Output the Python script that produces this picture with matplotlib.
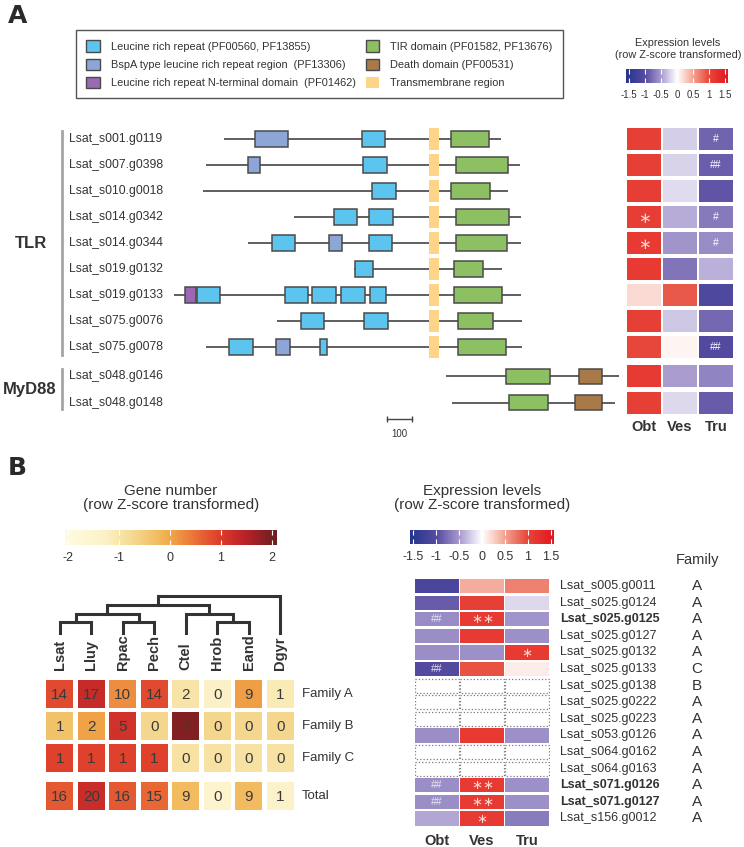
import numpy as np
import matplotlib
matplotlib.use("Agg")
import matplotlib.pyplot as plt
from matplotlib.colors import LinearSegmentedColormap, Normalize
from matplotlib.cm import ScalarMappable
from matplotlib.patches import Patch
from matplotlib.transforms import blended_transform_factory

plt.rcParams["font.family"] = ["Liberation Sans", "DejaVu Sans"]
TXT = "#333333"
plt.rcParams["text.color"] = TXT

W, H = 744, 847

# ---------------- Panel A: domain architecture (aligned aa coordinates) ----------------
a_genes = ["Lsat_s001.g0119", "Lsat_s007.g0398", "Lsat_s010.g0018", "Lsat_s014.g0342",
           "Lsat_s014.g0344", "Lsat_s019.g0132", "Lsat_s019.g0133", "Lsat_s075.g0076",
           "Lsat_s075.g0078", "Lsat_s048.g0146", "Lsat_s048.g0148"]
a_rows = [0, 1, 2, 3, 4, 5, 6, 7, 8, 9.12, 10.15]
a_span = [(216, 1324), (144, 1400), (132, 1352), (496, 1404), (312, 1404), (736, 1328),
          (16, 1404), (428, 1408), (144, 1408), (1104, 1796), (1128, 1780)]
a_domains = [
    [("bspa", 340, 472), ("lrr", 768, 860), ("tm", 1036, 1076), ("tir", 1124, 1276)],
    [("bspa", 312, 360), ("lrr", 772, 868), ("tm", 1036, 1076), ("tir", 1144, 1352)],
    [("lrr", 808, 904), ("tm", 1036, 1076), ("tir", 1124, 1280)],
    [("lrr", 656, 748), ("lrr", 796, 892), ("tm", 1036, 1076), ("tir", 1144, 1356)],
    [("lrr", 408, 500), ("bspa", 636, 688), ("lrr", 796, 888), ("tm", 1036, 1076), ("tir", 1144, 1348)],
    [("lrr", 740, 812), ("tm", 1036, 1076), ("tir", 1136, 1252)],
    [("lrrnt", 60, 104), ("lrr", 108, 200), ("lrr", 460, 552), ("lrr", 568, 664), ("lrr", 684, 780),
     ("lrr", 800, 864), ("tm", 1036, 1076), ("tir", 1136, 1328)],
    [("lrr", 524, 616), ("lrr", 776, 872), ("tm", 1036, 1076), ("tir", 1152, 1292)],
    [("lrr", 236, 332), ("bspa", 424, 480), ("lrr", 600, 628), ("tm", 1036, 1076), ("tir", 1152, 1344)],
    [("tir", 1344, 1520), ("death", 1636, 1728)],
    [("tir", 1356, 1512), ("death", 1620, 1728)],
]
# expression (row z-score): Obt, Ves, Tru
a_expr = np.array([
    [1.10, -0.25, -0.85],
    [1.10, -0.22, -0.88],
    [1.12, -0.18, -0.94],
    [1.13, -0.42, -0.71],
    [1.15, -0.55, -0.60],
    [1.15, -0.75, -0.40],
    [0.20, 0.90, -1.10],
    [1.10, -0.28, -0.82],
    [1.00, 0.05, -1.05],
    [1.15, -0.50, -0.65],
    [1.10, -0.20, -0.90],
])
a_marks = [["", "", "#"], ["", "", "##"], ["", "", ""], ["*", "", "#"], ["*", "", "#"],
           ["", "", ""], ["", "", ""], ["", "", ""], ["", "", "##"], ["", "", ""], ["", "", ""]]
tissues = ["Obt", "Ves", "Tru"]

# ---------------- Panel B ----------------
species = ["Lsat", "Lluy", "Rpac", "Pech", "Ctel", "Hrob", "Eand", "Dgyr"]
fam_rows = ["Family A", "Family B", "Family C", "Total"]
counts = np.array([
    [14, 17, 10, 14, 2, 0, 9, 1],
    [1, 2, 5, 0, 7, 0, 0, 0],
    [1, 1, 1, 1, 0, 0, 0, 0],
    [16, 20, 16, 15, 9, 0, 9, 1],
])
count_rows_y = [0, 1, 2, 3.2]
# dendrogram merges: (left node, right node, height)
merges = [(0, 1, 1.2), (2, 3, 1.2), (5, 6, 1.2), (8, 9, 2.1), (4, 10, 2.1), (11, 12, 3.1), (13, 7, 4.1)]

b_genes = ["Lsat_s005.g0011", "Lsat_s025.g0124", "Lsat_s025.g0125", "Lsat_s025.g0127",
           "Lsat_s025.g0132", "Lsat_s025.g0133", "Lsat_s025.g0138", "Lsat_s025.g0222",
           "Lsat_s025.g0223", "Lsat_s053.g0126", "Lsat_s064.g0162", "Lsat_s064.g0163",
           "Lsat_s071.g0126", "Lsat_s071.g0127", "Lsat_s156.g0012"]
b_family = ["A", "A", "A", "A", "A", "C", "B", "A", "A", "A", "A", "A", "A", "A", "A"]
b_bold = ["Lsat_s025.g0125", "Lsat_s071.g0126", "Lsat_s071.g0127"]
nan = np.nan
b_expr = np.array([
    [-1.15, 0.45, 0.70],
    [-0.90, 1.10, -0.20],
    [-0.60, 1.15, -0.55],
    [-0.58, 1.15, -0.57],
    [-0.58, -0.57, 1.15],
    [-1.05, 0.95, 0.10],
    [nan, nan, nan],
    [nan, nan, nan],
    [nan, nan, nan],
    [-0.58, 1.15, -0.57],
    [nan, nan, nan],
    [nan, nan, nan],
    [-0.58, 1.15, -0.57],
    [-0.58, 1.15, -0.57],
    [-0.45, 1.15, -0.70],
])
b_marks = [["", "", ""], ["", "", ""], ["##", "**", ""], ["", "", ""], ["", "", "*"],
           ["##", "", ""], ["", "", ""], ["", "", ""], ["", "", ""], ["", "", ""],
           ["", "", ""], ["", "", ""], ["##", "**", ""], ["##", "**", ""], ["", "*", ""]]

# ---------------- colour maps ----------------
EXPR_LIM = 1.6
expr_stops = [(-1.6, "#27338e"), (-1.5, "#2b3990"), (-1.0, "#574ca1"), (-0.5, "#a99bcf"),
              (0.0, "#ffffff"), (0.5, "#f3a593"), (1.0, "#e7483a"), (1.5, "#e31e24"), (1.6, "#e01a20")]
expr_cmap = LinearSegmentedColormap.from_list(
    "expr", [((v + EXPR_LIM) / (2 * EXPR_LIM), c) for v, c in expr_stops])
expr_norm = Normalize(-EXPR_LIM, EXPR_LIM)

GN_LO, GN_HI = -2.06, 2.1
gn_stops = [(-2.06, "#fffbe0"), (-1.3, "#fcf2c8"), (-1.0, "#f8e6aa"), (-0.7, "#f5d68c"),
            (-0.3, "#f2c066"), (0.0, "#f0a848"), (0.5, "#ea7036"), (1.0, "#dd3b2b"),
            (1.5, "#b82028"), (2.0, "#742022"), (2.1, "#6c1e20")]
gn_cmap = LinearSegmentedColormap.from_list(
    "gn", [((v - GN_LO) / (GN_HI - GN_LO), c) for v, c in gn_stops])
gn_norm = Normalize(GN_LO, GN_HI)

dom_style = {
    "lrr": ("#5bc4ef", "Leucine rich repeat (PF00560, PF13855)"),
    "bspa": ("#8ea5d8", "BspA type leucine rich repeat region  (PF13306)"),
    "lrrnt": ("#9b68b3", "Leucine rich repeat N-terminal domain  (PF01462)"),
    "tir": ("#8cc063", "TIR domain (PF01582, PF13676)"),
    "death": ("#a87a4a", "Death domain (PF00531)"),
    "tm": ("#fdd488", "Transmembrane region"),
}
EDGE = "#4a4a4a"
STAR = "\u2217"

fig = plt.figure(figsize=(W / 100, H / 100), dpi=100)


def px_axes(x0, y0, x1, y1):
    ax = fig.add_axes([x0 / W, 1 - y1 / H, (x1 - x0) / W, (y1 - y0) / H])
    ax.set_axis_off()
    return ax


def fig_text(x, y, s, **kw):
    fig.text(x / W, 1 - y / H, s, **kw)


def hbar_colorbar(cax, cmap, norm, ticks, labels, fs):
    cb = fig.colorbar(ScalarMappable(norm=norm, cmap=cmap), cax=cax, orientation="horizontal")
    cax.set_axis_on()
    cb.outline.set_visible(False)
    cb.set_ticks(ticks)
    cb.set_ticklabels(labels)
    cax.tick_params(direction="in", length=3.5, width=0.8, color="white", top=True,
                    bottom=True, labelsize=fs, labelcolor=TXT, pad=5)


def put_marks(ax, x, y, m, star_size, hash_color):
    # significance marks: stars drawn side by side, hashes as text
    if m.startswith("*"):
        n = len(m)
        offs = [0.0] if n == 1 else [-0.12, 0.12]
        for dx in offs:
            ax.text(x + dx, y + 0.04, STAR, ha="center", va="center", fontsize=star_size,
                    color="#fbd5cc", family=["DejaVu Sans"])
    else:
        ax.text(x, y, m, ha="center", va="center", fontsize=7.5, color=hash_color)


# ---------------- A: labels ----------------
fig_text(8, 4, "A", fontsize=18, fontweight="bold", va="top", family="DejaVu Sans", color="#2a2a2a")
fig_text(8, 456, "B", fontsize=18, fontweight="bold", va="top", family="DejaVu Sans", color="#2a2a2a")

# legend
order = ["lrr", "bspa", "lrrnt", "tir", "death", "tm"]
handles = [Patch(facecolor=dom_style[k][0], edgecolor=("none" if k == "tm" else EDGE), linewidth=1.0)
           for k in order]
labels = [dom_style[k][1] for k in order]
leg = fig.legend(handles, labels, loc="upper left", ncol=2, mode="expand",
                 bbox_to_anchor=(76 / W, 1 - 103 / H, 487 / W, 73 / H), borderaxespad=0,
                 fontsize=7.9, handlelength=1.2, handleheight=1.2, handletextpad=1.0,
                 labelspacing=0.62, borderpad=0.95, fancybox=False, framealpha=1,
                 edgecolor="#555555")
leg.get_frame().set_linewidth(1.0)
for t in leg.get_texts():
    t.set_color(TXT)

# domain diagram
ax_d = px_axes(170, 118, 640, 442)
ax_d.set_xlim(0, 1880)
ax_d.set_ylim((442 - 139) / 26, (118 - 139) / 26)
for y, (s, e), doms in zip(a_rows, a_span, a_domains):
    ax_d.plot([s, e], [y, y], color="#444444", lw=1.2, zorder=1, solid_capstyle="butt")
    for kind, ds, de in doms:
        if kind == "tm":
            ax_d.barh(y, de - ds, left=ds, height=0.85, color=dom_style[kind][0], zorder=2)
        else:
            ax_d.barh(y, de - ds, left=ds, height=0.58, color=dom_style[kind][0],
                      edgecolor=EDGE, linewidth=1.1, zorder=3)

trans = blended_transform_factory(fig.transFigure, ax_d.transData)
for y, g in zip(a_rows, a_genes):
    ax_d.text(69 / W, y, g, transform=trans, fontsize=8.8, va="center", ha="left", color=TXT)
ax_d.plot([62 / W, 62 / W], [-0.3, 8.3], transform=trans, color="#a5a5a5", lw=2, clip_on=False)
ax_d.plot([62 / W, 62 / W], [8.85, 10.4], transform=trans, color="#a5a5a5", lw=2, clip_on=False)
ax_d.text(47 / W, 4, "TLR", transform=trans, fontsize=12, fontweight="bold", ha="right", va="center", color=TXT)
ax_d.text(57 / W, 9.65, "MyD88", transform=trans, fontsize=12, fontweight="bold", ha="right", va="center", color=TXT)

# scale bar
ax_d.plot([868, 968], [10.77, 10.77], color="#444444", lw=1.0, clip_on=False)
ax_d.plot([868, 968], [10.77, 10.77], ls="none", marker="|", ms=5, color="#444444", clip_on=False)
ax_d.text(918, 11.35, "100", fontsize=7, ha="center", va="center", color=TXT)

# expression heatmap A
ax_h = px_axes(626, 118, 734, 442)
ax_h.set_xlim(-0.5, 2.5)
ax_h.set_ylim(ax_d.get_ylim())
for y, row, marks in zip(a_rows, a_expr, a_marks):
    ax_h.bar(range(3), 0.85, bottom=y - 0.425, width=0.92, color=expr_cmap(expr_norm(row)))
    for j, m in enumerate(marks):
        if m:
            put_marks(ax_h, j, y, m, 11, "white")
for j, t in enumerate(tissues):
    ax_h.text(j, 11.08, t, ha="center", va="center", fontsize=10.5, fontweight="bold", color=TXT)

# colour bar A
cax_a = px_axes(626, 69, 728, 83)
hbar_colorbar(cax_a, expr_cmap, expr_norm, [-1.5, -1, -0.5, 0, 0.5, 1, 1.5],
              ["-1.5", "-1", "-0.5", "0", "0.5", "1", "1.5"], 7)
fig_text(678, 43, "Expression levels", fontsize=7.8, ha="center", va="center")
fig_text(678, 55, "(row Z-score transformed)", fontsize=7.8, ha="center", va="center")

# ---------------- B: gene number ----------------
cax_g = px_axes(65, 530, 277, 545)
hbar_colorbar(cax_g, gn_cmap, gn_norm, [-2, -1, 0, 1, 2], ["-2", "-1", "0", "1", "2"], 9)
fig_text(171, 491, "Gene number", fontsize=11, ha="center", va="center")
fig_text(171, 505, "(row Z-score transformed)", fontsize=11, ha="center", va="center")

zs = (counts - counts.mean(axis=1, keepdims=True)) / counts.std(axis=1, ddof=1, keepdims=True)

ax_g = px_axes(44, 678, 296, 813)
ax_g.set_xlim(-0.5, 7.5)
ax_g.set_ylim(3.72, -0.5)
for y, crow, zrow in zip(count_rows_y, counts, zs):
    ax_g.bar(range(8), 0.875, bottom=y - 0.4375, width=0.86, color=gn_cmap(gn_norm(zrow)))
    for j, c in enumerate(crow):
        ax_g.text(j, y + 0.02, str(c), ha="center", va="center", fontsize=11, color="#3a3a3a")
for y, lab in zip(count_rows_y, fam_rows):
    ax_g.text(7.69, y, lab, ha="left", va="center", fontsize=9.5, color=TXT, clip_on=False)
for j, sp in enumerate(species):
    ax_g.text(j, -0.75, sp, rotation=90, ha="center", va="bottom", fontsize=10.5,
              fontweight="bold", color=TXT, clip_on=False)

# dendrogram
ax_t = px_axes(44, 594, 296, 636)
ax_t.set_xlim(-0.5, 7.5)
ax_t.set_ylim(-0.3, 4.3)
node_x = list(range(len(species)))
node_h = [0.0] * len(species)
for l, r, h in merges:
    ax_t.plot([node_x[l], node_x[l], node_x[r], node_x[r]], [node_h[l], h, h, node_h[r]],
              color="#333333", lw=2.2, solid_joinstyle="miter")
    node_x.append((node_x[l] + node_x[r]) / 2)
    node_h.append(h)

# ---------------- B: expression ----------------
cax_b = px_axes(410, 530, 554, 544)
hbar_colorbar(cax_b, expr_cmap, Normalize(-1.565, 1.565), [-1.5, -1, -0.5, 0, 0.5, 1, 1.5],
              ["-1.5", "-1", "-0.5", "0", "0.5", "1", "1.5"], 9)
fig_text(482, 491, "Expression levels", fontsize=11, ha="center", va="center")
fig_text(482, 505, "(row Z-score transformed)", fontsize=11, ha="center", va="center")

ax_e = px_axes(414.5, 577.75, 549.5, 826.75)
ax_e.set_xlim(-0.5, 2.5)
ax_e.set_ylim(14.5, -0.5)
for i, (row, marks) in enumerate(zip(b_expr, b_marks)):
    if np.isnan(row).all():
        ax_e.bar(range(3), 0.86, bottom=i - 0.43, width=0.96, color="white",
                 edgecolor="#7a7a7a", linestyle=":", linewidth=0.9)
    else:
        ax_e.bar(range(3), 0.86, bottom=i - 0.43, width=0.97, color=expr_cmap(expr_norm(row)))
    for j, m in enumerate(marks):
        if m:
            put_marks(ax_e, j, i, m, 9.5, "#e8e4f2")
for i, (g, f) in enumerate(zip(b_genes, b_family)):
    ax_e.text(2.73, i, g, ha="left", va="center", fontsize=9, color=TXT, clip_on=False,
              fontweight="bold" if g in b_bold else "normal")
    ax_e.text(5.78, i, f, ha="center", va="center", fontsize=11, color=TXT, clip_on=False)
ax_e.text(5.78, -1.58, "Family", ha="center", va="center", fontsize=10.5, color=TXT, clip_on=False)
for j, t in enumerate(tissues):
    ax_e.text(j, 15.33, t, ha="center", va="center", fontsize=10.5, fontweight="bold",
              color=TXT, clip_on=False)

fig.savefig("out.png", dpi=100)
